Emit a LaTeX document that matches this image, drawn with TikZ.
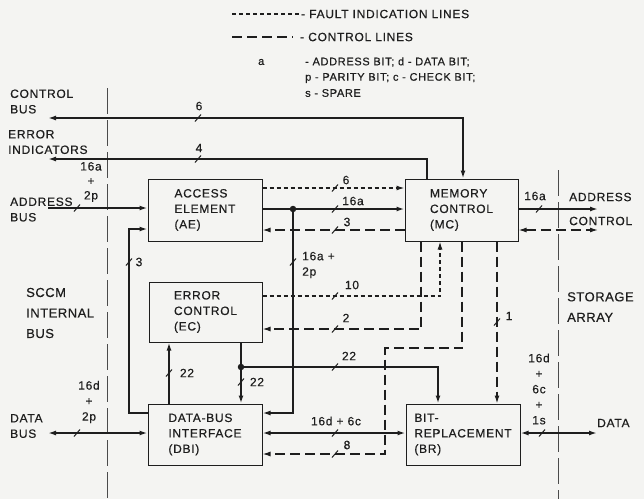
\documentclass[tikz,border=0pt]{standalone}
\usepackage{fontspec}
\setmainfont{Liberation Sans}[LetterSpace=6, BoldFont={Liberation Sans}, BoldFeatures={FakeBold=0.5}]
\newfontfamily\bigfont{Liberation Sans}[LetterSpace=4, BoldFont={Liberation Sans}, BoldFeatures={FakeBold=0.5}]
\usetikzlibrary{arrows.meta}
\definecolor{bgc}{RGB}{244,244,242}
\definecolor{ink}{RGB}{30,30,30}
\newcommand\slashmark[1]{\draw[tkst] (#1) ++(-3,3.5) -- ++(6,-7);}
\tikzset{
  box/.style={draw=ink, line width=1pt, align=left, text=ink,
    font=\fontsize{12}{15.5}\selectfont\bfseries, inner sep=2pt},
  bus/.style={draw=ink, line width=1.6pt},
  fault/.style={draw=ink, line width=1.3pt, dash pattern=on 4pt off 3pt},
  ctrl/.style={draw=ink, line width=1.3pt, dash pattern=on 10pt off 5pt},
  tkst/.style={draw=ink, line width=1pt},
  bnd/.style={draw=ink!80, line width=0.8pt, dash pattern=on 26pt off 6pt},
  lbl/.style={text=ink, inner sep=0pt, font=\fontsize{12}{15.5}\selectfont\bfseries},
  leg/.style={text=ink, inner sep=0pt, anchor=west, font=\fontsize{11}{15.5}\selectfont\bfseries},
  side/.style={text=ink, inner sep=0pt, anchor=west, align=left, font=\fontsize{12}{15.5}\selectfont\bfseries},
  bigside/.style={text=ink, inner sep=0pt, anchor=west, align=left, font=\bigfont\fontsize{13}{20.5}\selectfont\bfseries},
  dot/.style={circle, fill=ink, inner sep=0pt, minimum size=6.5pt},
  >={Latex[length=8pt,width=5pt]}
}
\begin{document}
\begin{tikzpicture}[x=1pt,y=-1pt]
\fill[bgc] (0,0) rectangle (644,499);
\useasboundingbox (0,0) rectangle (644,499);

% legend
\draw[fault] (232,14) -- (300,14);
\node[leg, font=\fontsize{12}{15}\selectfont\bfseries] (lg1) at (301,14) {- FAULT INDICATION LINES};
\draw[ctrl] (232,37) -- (293,37);
\node[leg, font=\fontsize{12}{15}\selectfont\bfseries] (lg2) at (300,37) {- CONTROL LINES};
\node[leg] (lga) at (258,62) {a};
\node[leg] (lg3) at (305,62) {- ADDRESS BIT; d - DATA BIT;};
\node[leg] (lg4) at (305,78) {p - PARITY BIT; c - CHECK BIT;};
\node[leg] (lg5) at (305,93) {s - SPARE};

% boundaries
\draw[bnd] (107,88) -- (107,499);
\draw[bnd] (558,170) -- (558,499);

% side texts
\node[side] (tcb) at (10,101.5) {CONTROL\\BUS};
\node[side] (tei) at (8,142) {ERROR\\INDICATORS};
\node[side] (tab) at (10,209.5) {ADDRESS\\BUS};
\node[side] (tdb) at (10,426) {DATA\\BUS};
\node[bigside] (tsc) at (26,313) {SCCM\\INTERNAL\\BUS};
\node[bigside] (tsa) at (567,307) {STORAGE\\ARRAY};
\node[side] (tac) at (569,197) {ADDRESS};
\node[side] (tco) at (569,221) {CONTROL};
\node[side] (tda) at (597,423) {DATA};

% boxes
\node[box, minimum width=114pt, minimum height=62pt] (AE) at (205,210) {ACCESS\\ELEMENT\\(AE)};
\node[box, minimum width=113pt, minimum height=62pt] (MC) at (461.5,210) {MEMORY\\CONTROL\\(MC)};
\node[box, minimum width=113pt, minimum height=60pt] (EC) at (205.5,312) {ERROR\\CONTROL\\(EC)};
\node[box, minimum width=114pt, minimum height=61pt] (DBI) at (205,434.5) {DATA-BUS\\INTERFACE\\(DBI)};
\node[box, minimum width=114pt, minimum height=61pt] (BR) at (463,434.5) {BIT-\\REPLACEMENT\\(BR)};

% free ends and junctions
\coordinate (cbL) at (48,118);
\coordinate (eiL) at (48,159);
\coordinate (abL) at (48,208);
\coordinate (dbL) at (48,433);
\coordinate (acR) at (598,209);
\coordinate (ccR) at (598,230);
\coordinate (dR) at (597,433);
\coordinate (c3) at (129,413);
\coordinate (c8) at (385,348);
\node[dot] (j1) at (293,209) {};
\node[dot] (j2) at (241,367) {};

% connectors
\draw[bus,<->] (cbL) -| ([xshift=1.5pt]MC.north);
\draw[bus,<-] (eiL) -| ([xshift=-34.5pt]MC.north);
\draw[bus,->] (abL) -- ([yshift=2pt]AE.west);
\draw[bus,->] ([yshift=21.5pt]DBI.west) -- (c3) |- ([yshift=-19pt]AE.west);
\draw[fault,->] ([yshift=22pt]AE.east) -- ([yshift=22pt]MC.west);
\draw[bus,->] ([yshift=1pt]AE.east) -- ([yshift=1pt]MC.west);
\draw[ctrl,->] ([yshift=-20pt]MC.west) -- ([yshift=-20pt]AE.east);
\draw[bus,->] (j1) |- ([yshift=21.5pt]DBI.east);
\draw[bus,->] ([yshift=1pt]MC.east) -- (acR);
\draw[ctrl,<->] ([yshift=-20pt]MC.east) -- (ccR);
\draw[fault,->] ([yshift=16pt]EC.east) -| ([xshift=-21.5pt]MC.south);
\draw[ctrl,->] ([xshift=-40.5pt]MC.south) |- ([yshift=-17pt]EC.east);
\draw[ctrl,->] ([xshift=0.5pt]MC.south) |- (c8) |- ([yshift=-19.5pt]DBI.east);
\draw[ctrl,->] ([xshift=35.5pt]MC.south) -- ([xshift=34pt]BR.north);
\draw[bus] ([xshift=35.5pt]EC.south) -- (j2);
\draw[bus,->] (j2) -- ([xshift=36pt]DBI.north);
\draw[bus,->] (j2) -| ([xshift=-25pt]BR.north);
\draw[bus,->] ([xshift=-36pt]DBI.north) -- ([xshift=-36.5pt]EC.south);
\draw[bus,<->] ([yshift=1.5pt]DBI.east) -- ([yshift=1.5pt]BR.west);
\draw[bus,<->] (dbL) -- ([yshift=1.5pt]DBI.west);
\draw[bus,<->] ([yshift=1.5pt]BR.east) -- (dR);

% ticks
\slashmark{198,118}
\slashmark{198,159}
\slashmark{77,208}
\slashmark{129,262}
\slashmark{335,188}
\slashmark{335,209}
\slashmark{335,230}
\slashmark{293,262}
\slashmark{539,209}
\slashmark{335,296}
\slashmark{335,329}
\slashmark{497,322}
\slashmark{169,373}
\slashmark{241,382}
\slashmark{335,367}
\slashmark{335,433}
\slashmark{77,433}
\slashmark{335,454}
\slashmark{542,433}

% bit-count labels
\node[lbl] (n1) at (199,106) {6};
\node[lbl] (n2) at (199,148) {4};
\node[lbl, align=center, font=\fontsize{12}{14.5}\selectfont\bfseries] (n3) at (91,182) {16a\\+\\2p};
\node[lbl] (n4) at (139,262) {3};
\node[lbl] (n5) at (346,180) {6};
\node[lbl] (n6) at (353,201) {16a};
\node[lbl] (n7) at (347,222) {3};
\node[lbl, anchor=west, align=left] (n8) at (302,265) {16a +\\2p};
\node[lbl] (n9) at (535,196) {16a};
\node[lbl] (n10) at (352,285) {10};
\node[lbl] (n11) at (346,318) {2};
\node[lbl] (n12) at (509,316) {1};
\node[lbl] (n13) at (187,373) {22};
\node[lbl] (n14) at (257,382) {22};
\node[lbl] (n15) at (349,356) {22};
\node[lbl] (n16) at (336,421) {16d + 6c};
\node[lbl] (n17) at (347,445) {8};
\node[lbl, align=center] (n18) at (89,402) {16d\\+\\2p};
\node[lbl, align=center] (n19) at (539,389) {16d\\+\\6c\\+\\1s};
\end{tikzpicture}
\end{document}
